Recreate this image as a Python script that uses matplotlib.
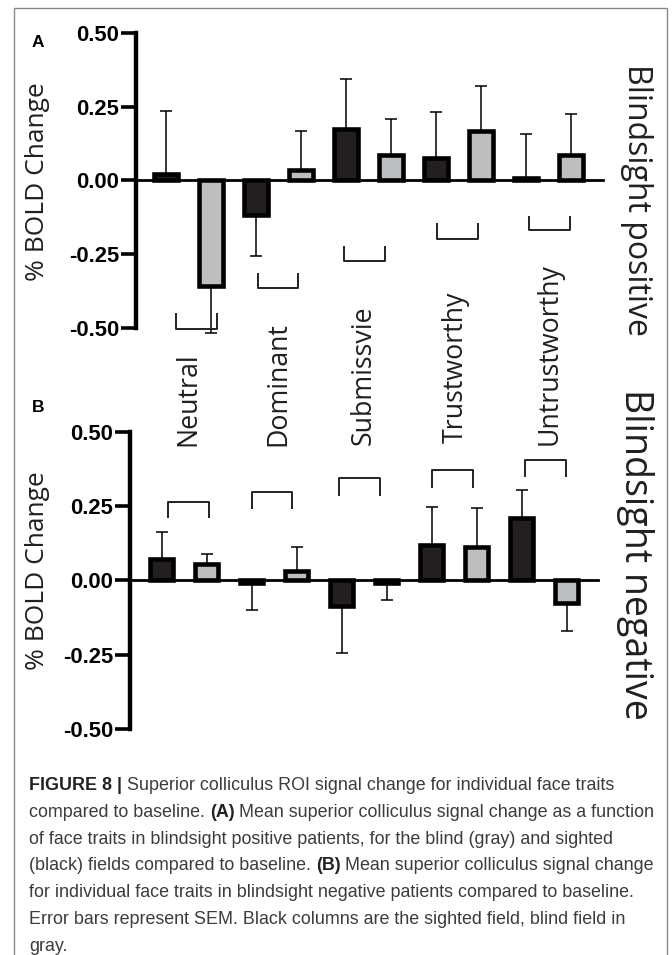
import matplotlib.pyplot as plt
from matplotlib.patches import Rectangle

W, H = 672, 955
DPI = 100

traits = ["Neutral", "Dominant", "Submissvie", "Trustworthy", "Untrustworthy"]
yticks = [-0.5, -0.25, 0.0, 0.25, 0.5]

# A: blindsight positive (sighted = black, blind = gray)
pos_sighted = [0.022, -0.116, 0.175, 0.075, 0.010]
pos_sighted_err = [0.215, 0.141, 0.168, 0.157, 0.147]
pos_blind = [-0.357, 0.036, 0.087, 0.169, 0.087]
pos_blind_err = [0.160, 0.131, 0.122, 0.151, 0.137]

# B: blindsight negative
neg_sighted = [0.071, -0.009, -0.085, 0.118, 0.210]
neg_sighted_err = [0.092, 0.091, 0.159, 0.128, 0.094]
neg_blind = [0.055, 0.032, -0.010, 0.112, -0.076]
neg_blind_err = [0.034, 0.080, 0.054, 0.132, 0.095]

# little brackets drawn under / over each trait (data coords)
brk_a_x = [(0.23, 1.14), (2.05, 2.94), (3.95, 4.87), (6.03, 6.94), (8.06, 8.97)]
brk_a_y = [(-0.448, -0.505), (-0.313, -0.366), (-0.223, -0.274), (-0.143, -0.197), (-0.121, -0.169)]
brk_b_x = [(0.15, 1.06), (2.00, 2.91), (3.94, 4.86), (6.00, 6.92), (8.08, 8.98)]
brk_b_y = [(0.210, 0.265), (0.240, 0.298), (0.285, 0.344), (0.313, 0.372), (0.348, 0.406)]

caption = [
    [("FIGURE 8 | ", True), ("Superior colliculus ROI signal change for individual face traits", False)],
    [("compared to baseline. ", False), ("(A)", True), (" Mean superior colliculus signal change as a function", False)],
    [("of face traits in blindsight positive patients, for the blind (gray) and sighted", False)],
    [("(black) fields compared to baseline. ", False), ("(B)", True), (" Mean superior colliculus signal change", False)],
    [("for individual face traits in blindsight negative patients compared to baseline.", False)],
    [("Error bars represent SEM. Black columns are the sighted field, blind field in", False)],
    [("gray.", False)],
]

BLACK = "#231f20"
GRAY = "#bcbec0"
LABEL_FONT = "Open Sans"
TICK_FONT = "Liberation Sans"


def fx(px):
    return px / W


def fy(py):
    return 1 - py / H


def one_sided(vals, errs):
    lo = [e if v < 0 else 0 for v, e in zip(vals, errs)]
    hi = [e if v >= 0 else 0 for v, e in zip(vals, errs)]
    return [lo, hi]


def panel(ax, sighted, s_err, blind, b_err, bx, by, xlim):
    xs = [2 * i for i in range(len(sighted))]
    xb = [2 * i + 1 for i in range(len(blind))]
    for x, v, e, c in ((xs, sighted, s_err, BLACK), (xb, blind, b_err, GRAY)):
        ax.errorbar(x, v, yerr=one_sided(v, e), fmt="none", ecolor="black",
                    elinewidth=1.1, capsize=4.5, capthick=1.1, zorder=1, clip_on=False)
        ax.bar(x, v, width=0.53, color=c, edgecolor="black", linewidth=3.3, zorder=2)
    for (x0, x1), (yl, yb) in zip(bx, by):
        ax.plot([x0, x0, x1, x1], [yl, yb, yb, yl], color="#222222", lw=1.4,
                clip_on=False, solid_capstyle="butt")
    ax.set_xlim(*xlim)
    ax.set_ylim(-0.5, 0.5)
    ax.set_xticks([])
    ax.set_yticks(yticks)
    ax.set_yticklabels([f"{t:.2f}" for t in yticks], fontfamily=TICK_FONT,
                       fontweight="bold", fontsize=15.8)
    ax.tick_params(axis="y", length=10.5, width=2.6, pad=1.5)
    for s in ("top", "right"):
        ax.spines[s].set_visible(False)
    ax.spines["left"].set_linewidth(3.2)
    ax.spines["bottom"].set_position(("data", 0))
    ax.spines["bottom"].set_linewidth(2.0)
    ax.patch.set_visible(False)


fig = plt.figure(figsize=(W / DPI, H / DPI), dpi=DPI)

axA = fig.add_axes([fx(136), fy(328), (603 - 136) / W, (328 - 33) / H])
panel(axA, pos_sighted, pos_sighted_err, pos_blind, pos_blind_err,
      brk_a_x, brk_a_y, (-0.667, 9.711))
axB = fig.add_axes([fx(130), fy(729), (598 - 130) / W, (729 - 432) / H])
panel(axB, neg_sighted, neg_sighted_err, neg_blind, neg_blind_err,
      brk_b_x, brk_b_y, (-0.7, 9.7))

# panel letters and axis titles
fig.text(fx(32), fy(47), "A", fontfamily=TICK_FONT, fontweight="bold", fontsize=12.5, va="baseline")
fig.text(fx(32), fy(412), "B", fontfamily=TICK_FONT, fontweight="bold", fontsize=12.5, va="baseline")
for yc in (182, 571):
    fig.text(fx(38), fy(yc), "% BOLD Change", fontfamily=LABEL_FONT, fontsize=19,
             rotation=90, ha="center", va="center", color="#231f20")
fig.text(fx(636), fy(64), "Blindsight positive", fontfamily=LABEL_FONT, fontsize=23,
         rotation=-90, ha="center", va="top", color="#231f20")
fig.text(fx(635), fy(389), "Blindsight negative", fontfamily=LABEL_FONT, fontsize=27,
         rotation=-90, ha="center", va="top", color="#231f20")

# rotated trait names shared by both panels
label_x = [195, 285, 371, 463, 557]
label_y = [446, 446, 445, 443, 445]
for name, x, y in zip(traits, label_x, label_y):
    fig.text(fx(x), fy(y), name, fontfamily=LABEL_FONT, fontsize=19.3, rotation=90,
             rotation_mode="anchor", ha="left", va="baseline", color="#231f20")

# frame around figure
fig.add_artist(Rectangle((fx(14), -0.02), (667 - 14) / W, fy(8) + 0.02,
                         transform=fig.transFigure, fill=False, ec="#888888", lw=1.0))

# caption with bold runs
fig.canvas.draw()
r = fig.canvas.get_renderer()
base = 790
for segs in caption:
    x = 29
    for txt, bold in segs:
        t = fig.text(fx(x), fy(base), txt, fontfamily=TICK_FONT, fontsize=12.85,
                     fontweight="bold" if bold else "normal",
                     color="#222222" if bold else "#3c3c3c", va="baseline", ha="left")
        x += t.get_window_extent(r).width
    base += 26.8

fig.savefig("out.png", dpi=DPI)
